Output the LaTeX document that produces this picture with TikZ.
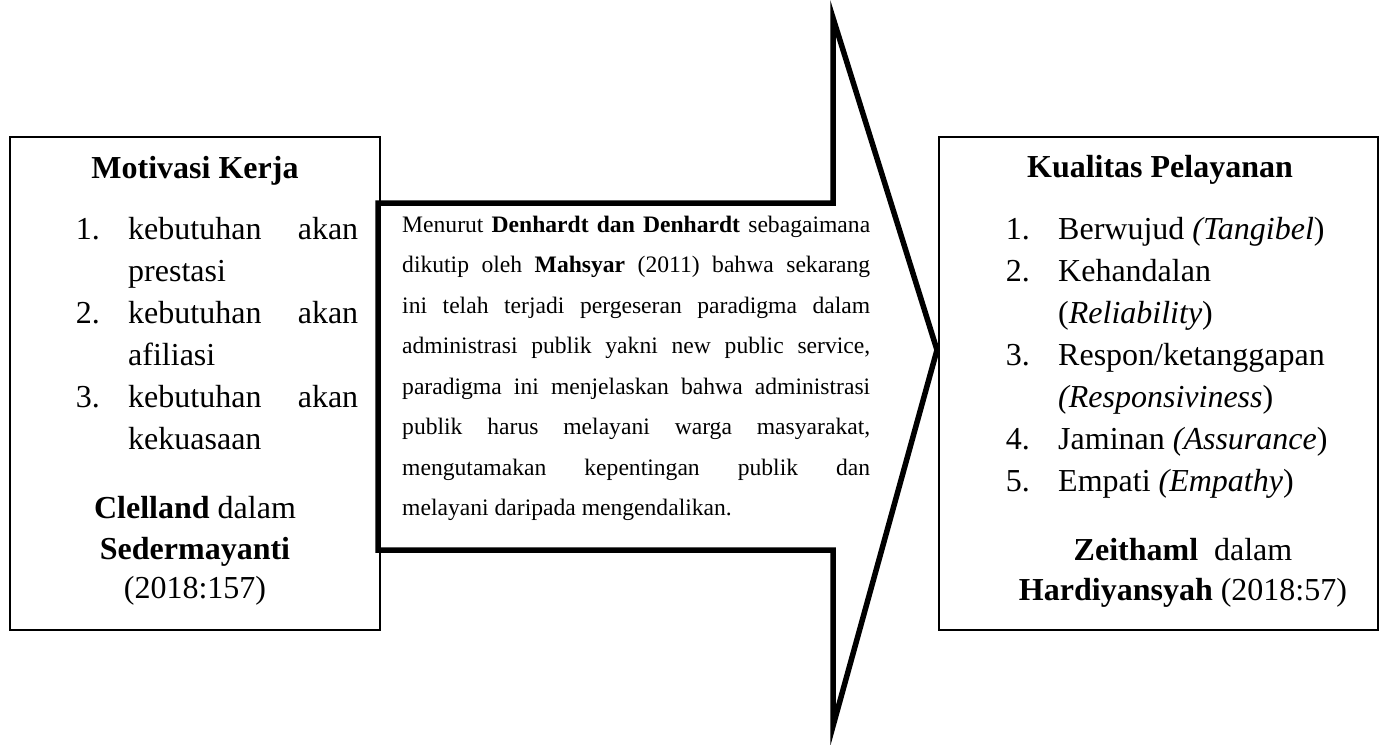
\documentclass[tikz,border=0pt]{standalone}
\usepackage{fontspec}
\setmainfont{Liberation Serif}
\tikzset{
  kotak/.style={draw,line width=2pt,minimum width=#1,minimum height=493pt,inner sep=0pt},
  baris/.style={anchor=base west,inner sep=0pt},
  nomor/.style={anchor=base east,inner sep=0pt},
  tengah/.style={anchor=base,inner sep=0pt}
}
\newcommand{\penuh}[1]{\makebox[468pt][s]{#1}}
\begin{document}
\begin{tikzpicture}[x=1pt,y=-1pt,line join=miter,font=\fontsize{32}{42}\selectfont]
\useasboundingbox (0,0) rectangle (1386,744);
% panah besar di tengah
\draw[line width=5.5pt] (378,203) -- (833,203) -- (833,18) -- (937,350) -- (833,726) -- (833,550) -- (378,550) -- cycle;
\foreach \t [count=\i] in {{\penuh{Menurut \textbf{Denhardt dan Denhardt} sebagaimana}},
  {\penuh{dikutip oleh \textbf{Mahsyar} (2011) bahwa sekarang}},
  {\penuh{ini telah terjadi pergeseran paradigma dalam}},
  {\penuh{administrasi publik yakni new public service,}},
  {\penuh{paradigma ini menjelaskan bahwa administrasi}},
  {\penuh{publik harus melayani warga masyarakat,}},
  {\penuh{mengutamakan kepentingan publik dan}},
  {melayani daripada mengendalikan.}}
  \node[baris,font=\fontsize{23.6}{40.5}\selectfont] (kutipan\i) at (402,{232+40.5*(\i-1)}) {\t};
% kotak kiri
\node[kotak=370pt] (motivasi) at (195,383.5) {};
\node[tengah] (judulM) at (195,178) {\textbf{Motivasi Kerja}};
\foreach \y/\n in {239/1.,323/2.,407/3.}
  \node[nomor] (nm\n) at (100,\y) {\n};
\foreach \y/\t [count=\i] in {239/{\makebox[230pt][s]{kebutuhan akan}},281/prestasi,323/{\makebox[230pt][s]{kebutuhan akan}},365/afiliasi,407/{\makebox[230pt][s]{kebutuhan akan}},449/kekuasaan}
  \node[baris] (m\i) at (128,\y) {\t};
\node[tengah] (sumberM1) at (195,518) {\textbf{Clelland} dalam};
\node[tengah] (sumberM2) at (195,559) {\textbf{Sedermayanti}};
\node[tengah] (sumberM3) at (195,598) {(2018:157)};
% kotak kanan
\node[kotak=439pt] (kualitas) at (1158.5,383.5) {};
\node[tengah] (judulK) at (1160,177) {\textbf{Kualitas Pelayanan}};
\foreach \y/\n in {239/1.,281/2.,365/3.,449/4.,491/5.}
  \node[nomor] (nk\n) at (1030,\y) {\n};
\foreach \y/\t [count=\i] in {239/{Berwujud \textit{(Tangibel})},281/Kehandalan,323/{(\textit{Reliability})},365/{Respon/ketanggapan},407/{\textit{(Responsiviness})},449/{Jaminan \textit{(Assurance})},491/{Empati \textit{(Empathy})}}
  \node[baris] (k\i) at (1058,\y) {\t};
\node[tengah] (sumberK1) at (1183,560) {\textbf{Zeithaml}\ \ dalam};
\node[tengah] (sumberK2) at (1183,600) {\textbf{Hardiyansyah} (2018:57)};
\end{tikzpicture}
\end{document}
